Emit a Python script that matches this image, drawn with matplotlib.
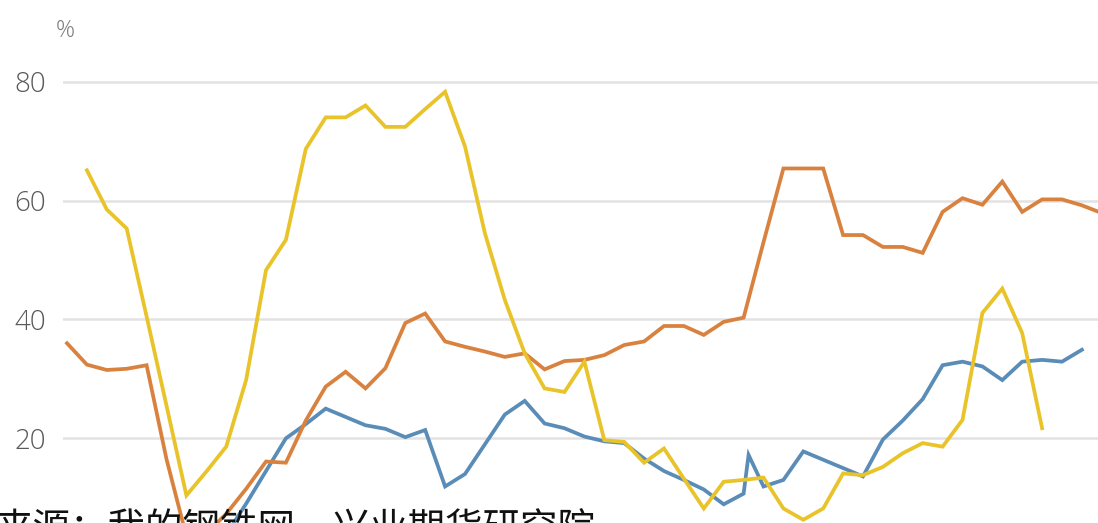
import numpy as np
import matplotlib
matplotlib.use("Agg")
import matplotlib.pyplot as plt

plt.rcParams['font.family'] = ['Noto Sans CJK SC', 'DejaVu Sans']

# Weekly index shared by the series
weeks = list(range(53))

# Orange series (%)
orange_vals = [36.0, 32.4, 31.5, 31.7, 32.3, 16.5, 3.5, 4.0, 7.3, 11.5,
               16.1, 15.9, 23.0, 28.7, 31.2, 28.4, 31.8, 39.4, 41.0, 36.3,
               35.4, 34.6, 33.7, 34.3, 31.6, 33.0, 33.2, 34.0, 35.7, 36.3,
               38.9, 38.9, 37.4, 39.6, 40.3, 53.0, 65.4, 65.4, 65.4, 54.2,
               54.2, 52.2, 52.2, 51.2, 58.1, 60.4, 59.3, 63.2, 58.1, 60.2,
               60.2, 59.2, 57.9]

# Yellow series (%), starts one week later
yellow_weeks = list(range(1, 50))
yellow_vals = [65.1, 58.5, 55.3, 40.5, 25.5, 10.4, 14.4, 18.6, 29.8,
               48.3, 53.4, 68.7, 74.0, 74.0, 76.0, 72.4, 72.4, 75.4, 78.3,
               69.1, 54.5, 43.3, 34.3, 28.4, 27.8, 32.9, 19.7, 19.4, 15.9,
               18.3, 13.2, 8.2, 12.7, 13.0, 13.4, 8.2, 6.3, 8.2, 14.1,
               13.8, 15.2, 17.5, 19.2, 18.6, 23.1, 41.1, 45.2, 37.7, 21.7]

# Blue series (%)
blue_weeks = [7, 8, 9, 10, 11, 12, 13, 14, 15, 16, 17, 18, 19, 20, 21, 22,
              23, 24, 25, 26, 27, 28, 29, 30, 31, 32, 33, 34, 34.25, 35, 36,
              37, 38, 39, 40, 41, 42, 43, 44, 45, 46, 47, 48, 49, 50, 51]
blue_vals = [0.5, 3.8, 9.0, 14.5, 20.0, 22.4, 25.0, 23.6, 22.2, 21.6,
             20.2, 21.4, 11.9, 14.0, 19.0, 24.0, 26.3, 22.5, 21.7, 20.3,
             19.5, 19.2, 16.6, 14.5, 13.0, 11.4, 8.9, 10.7, 17.2, 11.9,
             13.0, 17.8, 16.4, 15.0, 13.6, 19.8, 23.0, 26.6, 32.3, 32.9,
             32.1, 29.8, 32.9, 33.2, 32.9, 34.9]

y_ticks = [20, 40, 60, 80]
y_unit = "%"
source_text = "来源：我的钢铁网，兴业期货研究院"

W, H = 1098, 523
fig = plt.figure(figsize=(W / 100, H / 100), dpi=100)
fig.patch.set_facecolor("white")

left_px, top_px = 63, 60
ax = fig.add_axes([left_px / W, 0, 1 - left_px / W, (H - top_px) / H])

x0_px, step_px = 67, 19.9
ax.set_xlim((left_px - x0_px) / step_px, (W - x0_px) / step_px)
px_per_unit = 5.944
ax.set_ylim(80 - (H - 81.7) / px_per_unit, 80 + (81.7 - top_px) / px_per_unit)

lw = 2.7
ax.plot(blue_weeks, blue_vals, color="#5A8CB8", lw=lw, solid_joinstyle="miter", zorder=3)
ax.plot(weeks, orange_vals, color="#D9823F", lw=lw, solid_joinstyle="miter", zorder=4)
ax.plot(yellow_weeks, yellow_vals, color="#E9C32A", lw=lw, solid_joinstyle="miter", zorder=5)

ax.set_yticks(y_ticks)
ax.set_xticks([])
ax.yaxis.grid(True, color="#e2e2e2", lw=1.8)
ax.set_axisbelow(True)
for s in ax.spines.values():
    s.set_visible(False)
ax.tick_params(axis="y", length=0, pad=12, labelsize=20, labelcolor="#5a5a5a")
for lab in ax.get_yticklabels():
    lab.set_fontfamily(["Open Sans", "DejaVu Sans"])
    lab.set_fontweight("light")

fig.text(65 / W, 1 - 31 / H, y_unit, ha="center", va="center",
         fontsize=17, color="#7a7a7a", family=["Open Sans", "DejaVu Sans"],
         fontweight="light")

fig.text(-4 / W, 1 - 510 / H, source_text, ha="left", va="top",
         fontsize=27, color="#111111")

fig.savefig("out.png", dpi=100, facecolor="white")
